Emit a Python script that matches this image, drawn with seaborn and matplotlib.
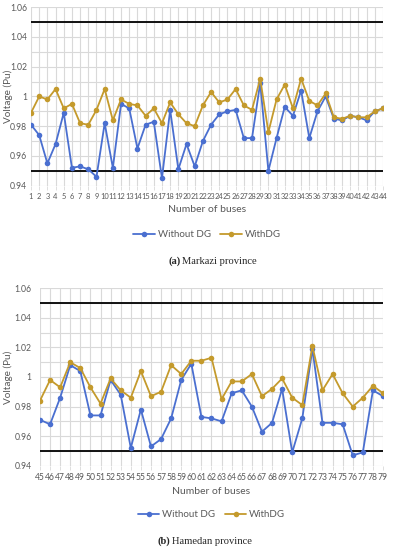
import numpy as np
import pandas as pd
import matplotlib
matplotlib.use('Agg')
import matplotlib.pyplot as plt
import seaborn as sns

# (a) Markazi province, buses 1-44
buses_a = list(range(1, 45))
without_dg_a = [0.981, 0.974, 0.955, 0.968, 0.989, 0.952, 0.953, 0.951, 0.946, 0.982,
                0.952, 0.995, 0.992, 0.965, 0.981, 0.983, 0.945, 0.991, 0.951, 0.968,
                0.953, 0.970, 0.981, 0.988, 0.990, 0.991, 0.972, 0.972, 1.009, 0.950,
                0.972, 0.993, 0.987, 1.004, 0.972, 0.990, 1.000, 0.985, 0.984, 0.987,
                0.986, 0.984, 0.990, 0.992]
with_dg_a = [0.989, 1.000, 0.998, 1.005, 0.992, 0.995, 0.982, 0.981, 0.991, 1.005,
             0.984, 0.998, 0.995, 0.994, 0.987, 0.992, 0.982, 0.996, 0.988, 0.982,
             0.980, 0.994, 1.003, 0.996, 0.998, 1.005, 0.994, 0.991, 1.012, 0.976,
             0.998, 1.008, 0.992, 1.012, 0.997, 0.994, 1.002, 0.986, 0.985, 0.987,
             0.986, 0.986, 0.990, 0.992]

# (b) Hamedan province, buses 45-79
buses_b = list(range(45, 80))
without_dg_b = [0.971, 0.968, 0.986, 1.008, 1.004, 0.974, 0.974, 0.998, 0.988, 0.952,
                0.978, 0.953, 0.958, 0.972, 0.998, 1.009, 0.973, 0.972, 0.970, 0.989,
                0.991, 0.980, 0.963, 0.969, 0.992, 0.949, 0.972, 1.019, 0.969, 0.969,
                0.968, 0.947, 0.949, 0.991, 0.987]
with_dg_b = [0.984, 0.998, 0.993, 1.010, 1.006, 0.993, 0.982, 0.999, 0.991, 0.986,
             1.004, 0.987, 0.990, 1.008, 1.002, 1.011, 1.011, 1.013, 0.985, 0.997,
             0.997, 1.002, 0.987, 0.992, 0.999, 0.986, 0.981, 1.021, 0.991, 1.002,
             0.989, 0.980, 0.986, 0.994, 0.989]

limits = [0.95, 1.05]
blue = '#4a6fd0'
gold = '#c49a2c'
grey = '#595959'

sns.set_theme(style='white')
plt.rcParams['font.family'] = ['Lato', 'DejaVu Sans']

fig = plt.figure(figsize=(3.94, 5.5), dpi=100)
ax_a = fig.add_axes([0.0787, 0.6624, 0.8933, 0.3244])
ax_b = fig.add_axes([0.1015, 0.1533, 0.8706, 0.3225])


def draw_panel(ax, buses, without_dg, with_dg, ypad, xsize, ylab_x):
    df = pd.DataFrame({'bus': buses, 'Without DG': without_dg, 'WithDG': with_dg})
    sns.lineplot(data=df, x='bus', y='Without DG', ax=ax, color=blue, marker='o',
                 markersize=4, markeredgewidth=0, linewidth=1.3, label='Without DG')
    sns.lineplot(data=df, x='bus', y='WithDG', ax=ax, color=gold, marker='o',
                 markersize=4, markeredgewidth=0, linewidth=1.3, label='WithDG')
    for lim in limits:
        ax.axhline(lim, color='black', linewidth=1.3, zorder=1)

    ax.set_xlim(buses[0], buses[-1])
    ax.set_ylim(0.94, 1.06)
    ax.set_xticks(buses)
    ax.set_xticklabels([str(b) for b in buses])
    ax.set_yticks(np.round(np.arange(0.94, 1.061, 0.02), 2))
    ax.set_yticklabels(['0.94', '0.96', '0.98', '1', '1.02', '1.04', '1.06'])
    ax.set_yticks(np.round(np.arange(0.95, 1.06, 0.02), 2), minor=True)
    ax.grid(True, which='both', color='#d9d9d9', linewidth=0.8)
    ax.set_axisbelow(True)
    for s in ax.spines.values():
        s.set_visible(False)
    ax.tick_params(axis='x', labelsize=xsize, colors=grey, length=3, width=0.6,
                   color='#d9d9d9', pad=2, bottom=True)
    ax.tick_params(axis='y', labelsize=6.2, colors=grey, length=0, pad=ypad)
    ax.tick_params(axis='y', which='minor', length=0)
    ax.set_xlabel('Number of buses', fontsize=7.5, color=grey, labelpad=4)
    ax.set_ylabel('Voltage (Pu)', fontsize=7.2, color=grey)
    ax.yaxis.set_label_coords(ylab_x, 0.5)
    ax.legend(loc='upper center', bbox_to_anchor=(0.5, -0.2), ncol=2, frameon=False,
              fontsize=7, labelcolor=grey, handlelength=2.2, columnspacing=1.0,
              handletextpad=0.3)


draw_panel(ax_a, buses_a, without_dg_a, with_dg_a, 3, 5.4, -0.05)
draw_panel(ax_b, buses_b, without_dg_b, with_dg_b, 6, 6.2, -0.078)

serif = ['Liberation Serif', 'DejaVu Serif']
fig.text(0.458, 1 - 261 / 550, '(a)', ha='right', va='center', fontsize=7.6,
         fontweight='bold', family=serif)
fig.text(0.463, 1 - 261 / 550, 'Markazi province', ha='left', va='center',
         fontsize=7.6, family=serif)
fig.text(0.431, 1 - 541 / 550, '(b)', ha='right', va='center', fontsize=7.6,
         fontweight='bold', family=serif)
fig.text(0.436, 1 - 541 / 550, 'Hamedan province', ha='left', va='center',
         fontsize=7.6, family=serif)

fig.savefig('out.png', dpi=100)
